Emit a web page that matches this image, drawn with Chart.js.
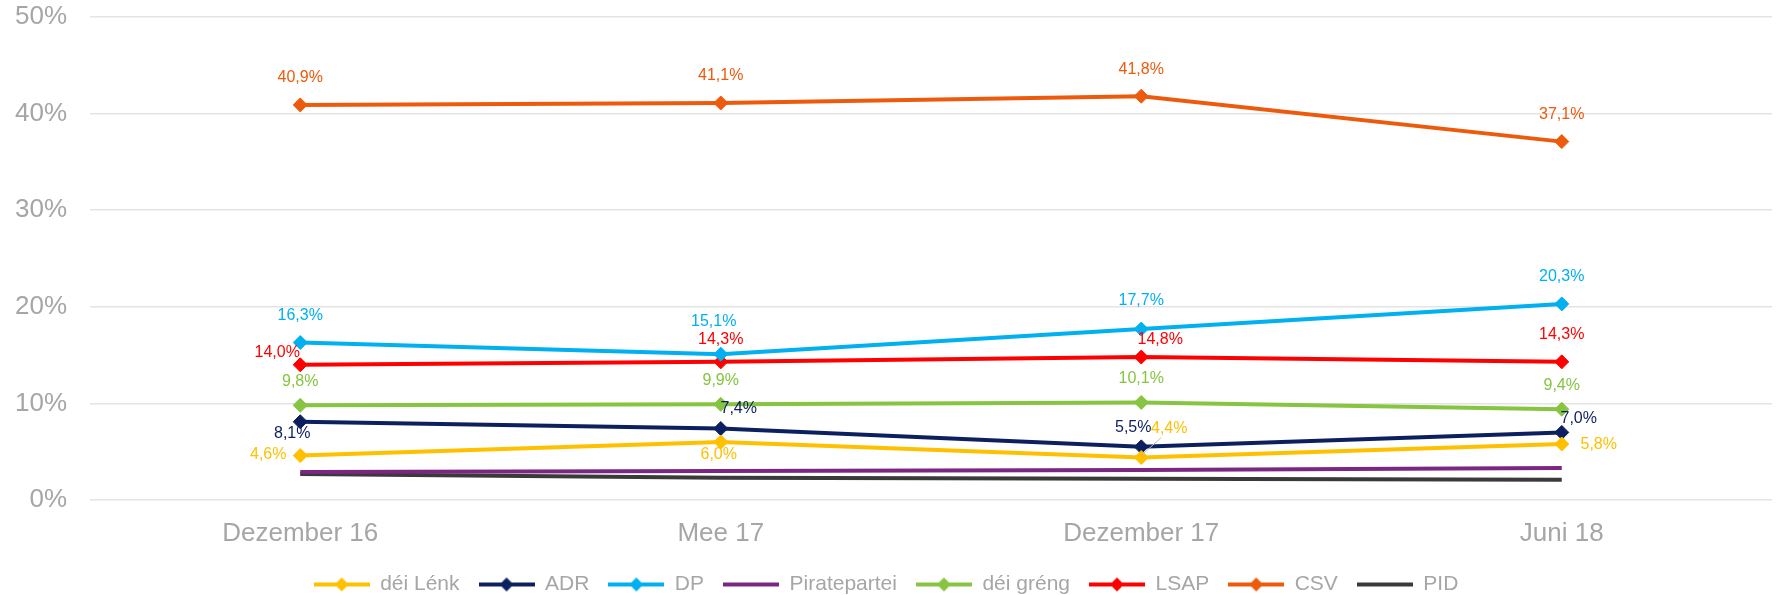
<!DOCTYPE html>
<html lang="lb">
<head>
    <meta charset="UTF-8">
    <title>Sondage</title>
    <script src="https://cdn.jsdelivr.net/npm/chart.js"></script>
    <style>
        html, body { margin: 0; padding: 0; background: #fff; }
        #wrap { width: 1781px; height: 595px; }
    </style>
</head>
<body>
    <div id="wrap"><canvas id="myChart" width="1781" height="595"></canvas></div>

    <script>
        // data
        const categories = ['Dezember 16', 'Mee 17', 'Dezember 17', 'Juni 18'];
        const yTicks = [0, 10, 20, 30, 40, 50];

        const deiLenk = [4.6, 6.0, 4.4, 5.8];
        const adr = [8.1, 7.4, 5.5, 7.0];
        const dp = [16.3, 15.1, 17.7, 20.3];
        const piratepartei = [2.9, 3.0, 3.1, 3.3];
        const deiGreng = [9.8, 9.9, 10.1, 9.4];
        const lsap = [14.0, 14.3, 14.8, 14.3];
        const csv = [40.9, 41.1, 41.8, 37.1];
        const pid = [2.7, 2.3, 2.2, 2.1];

        // where each value label sits relative to its point (dx, dy in px)
        const labelPos = {
            'déi Lénk': [[-32, -1], [-2, 13], [28, -29], [37, 1]],
            'ADR': [[-8, 12], [18, -20], [-8, -19], [17, -14]],
            'DP': [[0, -27], [-7, -33], [0, -28], [0, -27]],
            'déi gréng': [[0, -24], [0, -24], [0, -24], [0, -24]],
            'LSAP': [[-23, -12], [0, -22], [19, -17], [0, -27]],
            'CSV': [[0, -27], [0, -27], [0, -27], [0, -27]]
        };

        const grey = '#a6a6a6';
        const baseFont = "'Liberation Sans', Arial, sans-serif";

        function legendIcon(color, marker) {
            const c = document.createElement('canvas');
            c.width = 56; c.height = 16;
            const g = c.getContext('2d');
            g.strokeStyle = color;
            g.lineWidth = 4;
            g.beginPath(); g.moveTo(0, 8); g.lineTo(56, 8); g.stroke();
            if (marker) {
                g.fillStyle = color;
                g.beginPath();
                g.moveTo(28, 1); g.lineTo(35, 8); g.lineTo(28, 15); g.lineTo(21, 8);
                g.closePath(); g.fill();
            }
            return c;
        }

        function series(label, data, color, marker) {
            return {
                label: label,
                data: data,
                borderColor: color,
                backgroundColor: color,
                borderWidth: 4,
                pointStyle: marker ? 'rectRot' : false,
                pointRadius: marker ? 7 : 0,
                pointBorderWidth: 1,
                tension: 0,
                icon: legendIcon(color, marker),
                showValues: marker
            };
        }

        const valueLabels = {
            id: 'valueLabels',
            afterDatasetsDraw(chart) {
                const ctx = chart.ctx;
                ctx.save();
                ctx.font = '16px ' + baseFont;
                ctx.textAlign = 'center';
                ctx.textBaseline = 'middle';
                chart.data.datasets.forEach((ds, i) => {
                    if (!ds.showValues) return;
                    const meta = chart.getDatasetMeta(i);
                    const offs = labelPos[ds.label];
                    meta.data.forEach((pt, j) => {
                        const o = offs[j];
                        const tx = pt.x + o[0], ty = pt.y + o[1];
                        if (ds.label === 'déi Lénk' && j === 2) {
                            // leader line
                            ctx.strokeStyle = '#bfbfbf';
                            ctx.lineWidth = 1;
                            ctx.beginPath();
                            ctx.moveTo(pt.x, pt.y - 2);
                            ctx.lineTo(tx - 8, ty + 9);
                            ctx.stroke();
                        }
                        ctx.fillStyle = ds.borderColor;
                        ctx.fillText(ds.data[j].toFixed(1).replace('.', ',') + '%', tx, ty);
                    });
                });
                ctx.restore();
            }
        };

        const ctx = document.getElementById('myChart').getContext('2d');
        let myChart = new Chart(ctx, {
            type: 'line',
            data: {
                labels: categories,
                datasets: [
                    series('déi Lénk', deiLenk, '#FFC000', true),
                    series('ADR', adr, '#0C1F5E', true),
                    series('DP', dp, '#00B0F0', true),
                    series('Piratepartei', piratepartei, '#7A2682', false),
                    series('déi gréng', deiGreng, '#86C441', true),
                    series('LSAP', lsap, '#FF0000', true),
                    series('CSV', csv, '#EE5A0B', true),
                    series('PID', pid, '#3A3A3A', false)
                ]
            },
            options: {
                responsive: false,
                animation: false,
                layout: { padding: { top: 0, right: 9, left: 0, bottom: 0 } },
                plugins: {
                    tooltip: { enabled: false },
                    legend: {
                        position: 'bottom',
                        maxHeight: 40,
                        labels: {
                            usePointStyle: true,
                            pointStyleWidth: 56,
                            padding: 19,
                            color: grey,
                            font: { family: "'Liberation Sans Narrow', 'Liberation Sans', Arial, sans-serif", size: 21 },
                            generateLabels(chart) {
                                return chart.data.datasets.map((ds, i) => ({
                                    text: ds.label,
                                    pointStyle: ds.icon,
                                    fillStyle: ds.borderColor,
                                    strokeStyle: ds.borderColor,
                                    lineWidth: 0,
                                    fontColor: grey,
                                    hidden: false,
                                    datasetIndex: i
                                }));
                            }
                        }
                    }
                },
                scales: {
                    x: {
                        offset: true,
                        afterFit(scale) { scale.height = 55; },
                        grid: { display: false, drawTicks: false },
                        border: { display: false },
                        ticks: {
                            color: grey,
                            padding: 18,
                            font: { family: baseFont, size: 26 }
                        }
                    },
                    y: {
                        min: 0,
                        max: 50,
                        afterBuildTicks(scale) {
                            scale.ticks = yTicks.map(v => ({ value: v }));
                        },
                        afterFit(scale) {
                            scale.width = 90;
                            scale.paddingTop = 17;
                            scale.paddingBottom = 0;
                        },
                        grid: { color: '#e4e4e4', lineWidth: 1.5, drawTicks: false },
                        border: { display: false },
                        ticks: {
                            color: grey,
                            padding: 23,
                            font: { family: baseFont, size: 26 },
                            callback: v => v + '%'
                        }
                    }
                }
            },
            plugins: [valueLabels]
        });
    </script>
</body>
</html>
